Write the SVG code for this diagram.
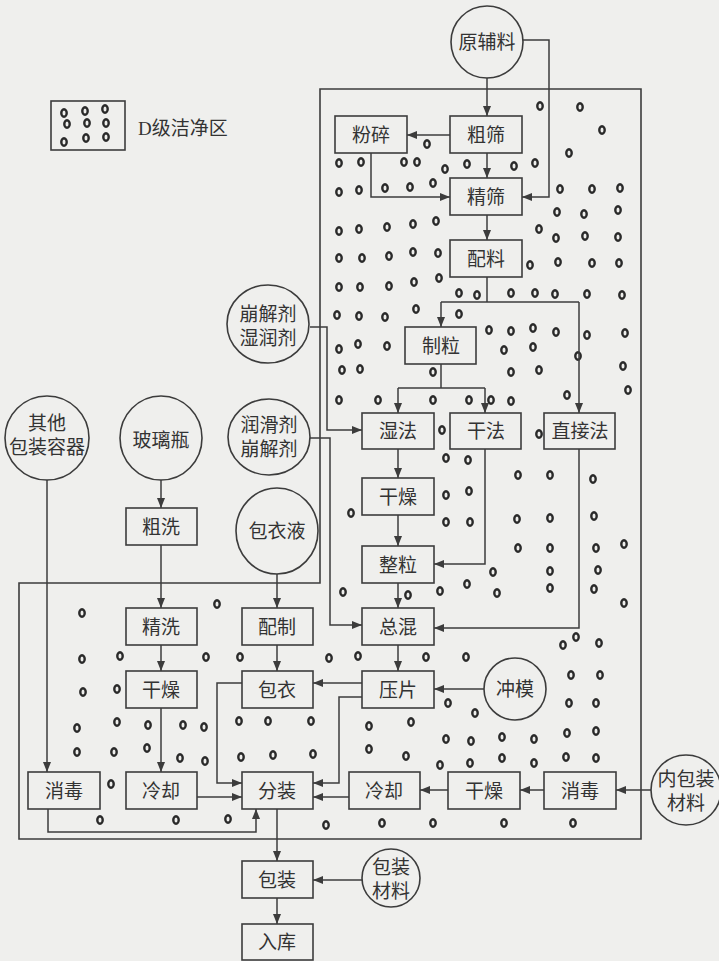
<svg xmlns="http://www.w3.org/2000/svg" xmlns:xlink="http://www.w3.org/1999/xlink" width="719" height="961" viewBox="0 0 719 961">
<style>
.bx{fill:none;stroke:#3c3c3c;stroke-width:1.6}
.cl{fill:none;stroke:#3c3c3c;stroke-width:1.6}
.ln{fill:none;stroke:#3c3c3c;stroke-width:1.5}
.t{font-family:"Liberation Serif","Noto Sans CJK SC",serif;font-size:19px;fill:#333;text-anchor:middle;dominant-baseline:central}
.tl{font-family:"Liberation Serif","Noto Sans CJK SC",serif;font-size:19px;fill:#333;dominant-baseline:central}
.zone{fill:none;stroke:#3c3c3c;stroke-width:1.6}
</style>
<defs>
<marker id="ah" viewBox="0 0 10 8" refX="10" refY="4" markerWidth="10" markerHeight="8" markerUnits="userSpaceOnUse" orient="auto">
<path d="M0,0 L10,4 L0,8 Z" fill="#3c3c3c"/>
</marker>
<ellipse id="dot" cx="0" cy="0" rx="2.7" ry="3.7" fill="none" stroke="#2a2a2a" stroke-width="2.4"/>
</defs>
<rect width="719" height="961" fill="#efefed"/>

<g id="legend">
<rect class="bx" x="51" y="101" width="74" height="49"/>
<use href="#dot" x="64" y="113"/><use href="#dot" x="85" y="111"/><use href="#dot" x="105" y="109"/>
<use href="#dot" x="67" y="124"/><use href="#dot" x="87" y="123"/><use href="#dot" x="106" y="123"/>
<use href="#dot" x="64" y="142"/><use href="#dot" x="86" y="138"/><use href="#dot" x="106" y="137"/>
<text class="tl" x="138" y="128">D级洁净区</text>
</g>

<g id="clean-zone">
<path class="zone" d="M320,89 H641 V839 H19 V583 H320 Z"/>
<g id="dots">
<use href="#dot" x="540" y="106"/><use href="#dot" x="580" y="107"/><use href="#dot" x="602" y="130"/><use href="#dot" x="427" y="144"/><use href="#dot" x="569" y="153"/>
<use href="#dot" x="339" y="163"/><use href="#dot" x="361" y="162"/><use href="#dot" x="404" y="162"/><use href="#dot" x="417" y="162"/><use href="#dot" x="445" y="169"/><use href="#dot" x="467" y="164"/><use href="#dot" x="514" y="166"/><use href="#dot" x="535" y="163"/>
<use href="#dot" x="339" y="192"/><use href="#dot" x="359" y="190"/><use href="#dot" x="385" y="188"/><use href="#dot" x="410" y="187"/><use href="#dot" x="433" y="183"/><use href="#dot" x="560" y="189"/><use href="#dot" x="592" y="189"/><use href="#dot" x="620" y="188"/>
<use href="#dot" x="557" y="212"/><use href="#dot" x="584" y="214"/><use href="#dot" x="618" y="210"/>
<use href="#dot" x="339" y="231"/><use href="#dot" x="359" y="229"/><use href="#dot" x="387" y="227"/><use href="#dot" x="413" y="224"/><use href="#dot" x="436" y="221"/><use href="#dot" x="539" y="229"/><use href="#dot" x="556" y="238"/><use href="#dot" x="585" y="236"/><use href="#dot" x="618" y="237"/>
<use href="#dot" x="339" y="258"/><use href="#dot" x="362" y="258"/><use href="#dot" x="389" y="256"/><use href="#dot" x="413" y="252"/><use href="#dot" x="438" y="253"/><use href="#dot" x="530" y="265"/><use href="#dot" x="558" y="262"/><use href="#dot" x="592" y="263"/><use href="#dot" x="619" y="263"/>
<use href="#dot" x="339" y="287"/><use href="#dot" x="360" y="287"/><use href="#dot" x="389" y="286"/><use href="#dot" x="414" y="282"/><use href="#dot" x="439" y="278"/><use href="#dot" x="459" y="293"/><use href="#dot" x="477" y="295"/><use href="#dot" x="511" y="293"/><use href="#dot" x="535" y="293"/><use href="#dot" x="555" y="294"/><use href="#dot" x="587" y="294"/><use href="#dot" x="622" y="295"/>
<use href="#dot" x="337" y="315"/><use href="#dot" x="359" y="316"/><use href="#dot" x="385" y="317"/><use href="#dot" x="416" y="309"/><use href="#dot" x="459" y="314"/>
<use href="#dot" x="489" y="330"/><use href="#dot" x="511" y="331"/><use href="#dot" x="533" y="328"/><use href="#dot" x="556" y="332"/><use href="#dot" x="587" y="335"/><use href="#dot" x="625" y="333"/>
<use href="#dot" x="339" y="349"/><use href="#dot" x="358" y="344"/><use href="#dot" x="387" y="346"/><use href="#dot" x="504" y="350"/><use href="#dot" x="533" y="347"/><use href="#dot" x="578" y="356"/>
<use href="#dot" x="342" y="370"/><use href="#dot" x="360" y="369"/><use href="#dot" x="433" y="372"/><use href="#dot" x="511" y="372"/><use href="#dot" x="539" y="370"/><use href="#dot" x="623" y="366"/><use href="#dot" x="628" y="390"/>
<use href="#dot" x="339" y="400"/><use href="#dot" x="378" y="400"/><use href="#dot" x="433" y="400"/><use href="#dot" x="469" y="400"/><use href="#dot" x="491" y="400"/><use href="#dot" x="511" y="401"/><use href="#dot" x="567" y="395"/>
<use href="#dot" x="442" y="430"/><use href="#dot" x="539" y="434"/>
<use href="#dot" x="446" y="458"/><use href="#dot" x="468" y="460"/><use href="#dot" x="518" y="475"/><use href="#dot" x="550" y="475"/><use href="#dot" x="593" y="479"/>
<use href="#dot" x="446" y="495"/><use href="#dot" x="469" y="491"/><use href="#dot" x="351" y="513"/><use href="#dot" x="446" y="522"/><use href="#dot" x="470" y="522"/><use href="#dot" x="517" y="519"/><use href="#dot" x="550" y="518"/><use href="#dot" x="594" y="516"/>
<use href="#dot" x="518" y="548"/><use href="#dot" x="550" y="548"/><use href="#dot" x="596" y="548"/><use href="#dot" x="624" y="544"/>
<use href="#dot" x="493" y="572"/><use href="#dot" x="550" y="571"/><use href="#dot" x="598" y="570"/>
<use href="#dot" x="343" y="592"/><use href="#dot" x="408" y="595"/><use href="#dot" x="440" y="591"/><use href="#dot" x="467" y="584"/><use href="#dot" x="497" y="593"/><use href="#dot" x="550" y="588"/><use href="#dot" x="594" y="589"/><use href="#dot" x="624" y="603"/>
<use href="#dot" x="82" y="613"/><use href="#dot" x="217" y="604"/><use href="#dot" x="576" y="637"/>
<use href="#dot" x="563" y="645"/><use href="#dot" x="599" y="643"/>
<use href="#dot" x="82" y="659"/><use href="#dot" x="120" y="656"/><use href="#dot" x="206" y="657"/><use href="#dot" x="240" y="657"/><use href="#dot" x="329" y="658"/><use href="#dot" x="358" y="656"/><use href="#dot" x="426" y="657"/><use href="#dot" x="466" y="657"/>
<use href="#dot" x="571" y="675"/><use href="#dot" x="600" y="675"/><use href="#dot" x="83" y="692"/><use href="#dot" x="117" y="689"/><use href="#dot" x="448" y="703"/><use href="#dot" x="569" y="703"/><use href="#dot" x="596" y="703"/><use href="#dot" x="475" y="713"/>
<use href="#dot" x="77" y="728"/><use href="#dot" x="117" y="722"/><use href="#dot" x="148" y="725"/><use href="#dot" x="183" y="725"/><use href="#dot" x="204" y="727"/><use href="#dot" x="239" y="721"/><use href="#dot" x="268" y="721"/><use href="#dot" x="311" y="721"/><use href="#dot" x="369" y="726"/><use href="#dot" x="411" y="722"/><use href="#dot" x="567" y="733"/><use href="#dot" x="596" y="731"/>
<use href="#dot" x="446" y="739"/><use href="#dot" x="471" y="741"/><use href="#dot" x="502" y="737"/><use href="#dot" x="534" y="739"/>
<use href="#dot" x="77" y="752"/><use href="#dot" x="114" y="752"/><use href="#dot" x="147" y="748"/><use href="#dot" x="180" y="758"/><use href="#dot" x="205" y="761"/><use href="#dot" x="241" y="757"/><use href="#dot" x="273" y="755"/><use href="#dot" x="313" y="754"/><use href="#dot" x="369" y="749"/><use href="#dot" x="406" y="756"/>
<use href="#dot" x="440" y="765"/><use href="#dot" x="470" y="763"/><use href="#dot" x="502" y="758"/><use href="#dot" x="534" y="763"/><use href="#dot" x="566" y="757"/><use href="#dot" x="596" y="758"/>
<use href="#dot" x="111" y="784"/>
<use href="#dot" x="100" y="820"/><use href="#dot" x="176" y="820"/><use href="#dot" x="228" y="819"/><use href="#dot" x="326" y="825"/><use href="#dot" x="382" y="823"/><use href="#dot" x="433" y="823"/><use href="#dot" x="504" y="823"/><use href="#dot" x="573" y="823"/>
</g>
</g>

<g id="connectors">
<path class="ln" d="M487,78 V116" marker-end="url(#ah)"/>
<path class="ln" d="M523,40 H549 V197 H522" marker-end="url(#ah)"/>
<path class="ln" d="M450,135 H407" marker-end="url(#ah)"/>
<path class="ln" d="M487,153 V178" marker-end="url(#ah)"/>
<path class="ln" d="M371,153 V197 H450" marker-end="url(#ah)"/>
<path class="ln" d="M487,215 V240" marker-end="url(#ah)"/>
<path class="ln" d="M487,277 V302"/>
<path class="ln" d="M441,302 H579"/>
<path class="ln" d="M441,302 V327" marker-end="url(#ah)"/>
<path class="ln" d="M579,302 V413" marker-end="url(#ah)"/>
<path class="ln" d="M441,364 V388"/>
<path class="ln" d="M398,388 H485"/>
<path class="ln" d="M398,388 V413" marker-end="url(#ah)"/>
<path class="ln" d="M485,388 V413" marker-end="url(#ah)"/>
<path class="ln" d="M310,327 H327 V430 H362" marker-end="url(#ah)"/>
<path class="ln" d="M398,449 V478" marker-end="url(#ah)"/>
<path class="ln" d="M398,515 V546" marker-end="url(#ah)"/>
<path class="ln" d="M485,449 V564 H434" marker-end="url(#ah)"/>
<path class="ln" d="M398,583 V608" marker-end="url(#ah)"/>
<path class="ln" d="M579,449 V628 H434" marker-end="url(#ah)"/>
<path class="ln" d="M310,438 H330 V625 H362" marker-end="url(#ah)"/>
<path class="ln" d="M398,645 V671" marker-end="url(#ah)"/>
<path class="ln" d="M484,689 H434" marker-end="url(#ah)"/>
<path class="ln" d="M362,683 H313" marker-end="url(#ah)"/>
<path class="ln" d="M242,683 H217 V783 H242" marker-end="url(#ah)"/>
<path class="ln" d="M362,697 H339 V783 H313" marker-end="url(#ah)"/>
<path class="ln" d="M161,480 V508" marker-end="url(#ah)"/>
<path class="ln" d="M161,545 V608" marker-end="url(#ah)"/>
<path class="ln" d="M161,645 V671" marker-end="url(#ah)"/>
<path class="ln" d="M161,708 V772" marker-end="url(#ah)"/>
<path class="ln" d="M277,574 V608" marker-end="url(#ah)"/>
<path class="ln" d="M277,645 V671" marker-end="url(#ah)"/>
<path class="ln" d="M47,480 V772" marker-end="url(#ah)"/>
<path class="ln" d="M48,809 V832 H256 V809" marker-end="url(#ah)"/>
<path class="ln" d="M197,797 H242" marker-end="url(#ah)"/>
<path class="ln" d="M349,797 H313" marker-end="url(#ah)"/>
<path class="ln" d="M448,790 H420" marker-end="url(#ah)"/>
<path class="ln" d="M544,790 H520" marker-end="url(#ah)"/>
<path class="ln" d="M651,790 H616" marker-end="url(#ah)"/>
<path class="ln" d="M277,809 V861" marker-end="url(#ah)"/>
<path class="ln" d="M362,880 H313" marker-end="url(#ah)"/>
<path class="ln" d="M277,898 V924" marker-end="url(#ah)"/>
</g>

<g id="n-yuanfuliao"><ellipse class="cl" cx="487" cy="42" rx="36" ry="36"/><text class="t" x="487" y="42">原辅料</text></g>
<g id="n-fensui"><rect class="bx" x="335" y="116" width="72" height="37"/><text class="t" x="371" y="135">粉碎</text></g>
<g id="n-cushai"><rect class="bx" x="450" y="116" width="72" height="37"/><text class="t" x="486" y="135">粗筛</text></g>
<g id="n-jingshai"><rect class="bx" x="450" y="178" width="72" height="37"/><text class="t" x="486" y="197">精筛</text></g>
<g id="n-peiliao"><rect class="bx" x="450" y="240" width="72" height="37"/><text class="t" x="486" y="259">配料</text></g>
<g id="n-zhili"><rect class="bx" x="405" y="327" width="71" height="37"/><text class="t" x="441" y="346">制粒</text></g>
<g id="n-bengjie-shirun"><ellipse class="cl" cx="268" cy="324" rx="41" ry="39"/><text class="t" x="268" y="314">崩解剂</text><text class="t" x="268" y="338">湿润剂</text></g>
<g id="n-shifa"><rect class="bx" x="362" y="413" width="72" height="36"/><text class="t" x="398" y="431">湿法</text></g>
<g id="n-ganfa"><rect class="bx" x="450" y="413" width="71" height="36"/><text class="t" x="486" y="431">干法</text></g>
<g id="n-zhijiefa"><rect class="bx" x="544" y="413" width="71" height="36"/><text class="t" x="580" y="431">直接法</text></g>
<g id="n-runhua-bengjie"><ellipse class="cl" cx="269" cy="437" rx="41" ry="38"/><text class="t" x="269" y="425">润滑剂</text><text class="t" x="269" y="449">崩解剂</text></g>
<g id="n-qita"><ellipse class="cl" cx="47" cy="438" rx="42" ry="42"/><text class="t" x="47" y="423">其他</text><text class="t" x="47" y="447">包装容器</text></g>
<g id="n-boliping"><ellipse class="cl" cx="161" cy="438" rx="41" ry="42"/><text class="t" x="161" y="440">玻璃瓶</text></g>
<g id="n-ganzao1"><rect class="bx" x="362" y="478" width="72" height="37"/><text class="t" x="398" y="497">干燥</text></g>
<g id="n-cuxi"><rect class="bx" x="126" y="508" width="71" height="37"/><text class="t" x="161" y="527">粗洗</text></g>
<g id="n-baoyiye"><ellipse class="cl" cx="277" cy="531" rx="41" ry="43"/><text class="t" x="277" y="531">包衣液</text></g>
<g id="n-zhengli"><rect class="bx" x="362" y="546" width="72" height="37"/><text class="t" x="398" y="565">整粒</text></g>
<g id="n-jingxi"><rect class="bx" x="126" y="608" width="71" height="37"/><text class="t" x="161" y="627">精洗</text></g>
<g id="n-peizhi"><rect class="bx" x="242" y="608" width="71" height="37"/><text class="t" x="277" y="627">配制</text></g>
<g id="n-zonghun"><rect class="bx" x="362" y="608" width="72" height="37"/><text class="t" x="398" y="627">总混</text></g>
<g id="n-ganzao2"><rect class="bx" x="126" y="671" width="71" height="37"/><text class="t" x="161" y="690">干燥</text></g>
<g id="n-baoyi"><rect class="bx" x="242" y="671" width="71" height="37"/><text class="t" x="277" y="690">包衣</text></g>
<g id="n-yapian"><rect class="bx" x="362" y="671" width="72" height="37"/><text class="t" x="398" y="690">压片</text></g>
<g id="n-chongmo"><ellipse class="cl" cx="515" cy="689" rx="31" ry="31"/><text class="t" x="515" y="689">冲模</text></g>
<g id="n-xiaodu1"><rect class="bx" x="28" y="772" width="72" height="37"/><text class="t" x="64" y="791">消毒</text></g>
<g id="n-lengque1"><rect class="bx" x="126" y="772" width="71" height="37"/><text class="t" x="161" y="791">冷却</text></g>
<g id="n-fenzhuang"><rect class="bx" x="242" y="772" width="71" height="37"/><text class="t" x="277" y="791">分装</text></g>
<g id="n-lengque2"><rect class="bx" x="349" y="772" width="71" height="37"/><text class="t" x="384" y="791">冷却</text></g>
<g id="n-ganzao3"><rect class="bx" x="448" y="772" width="72" height="37"/><text class="t" x="484" y="791">干燥</text></g>
<g id="n-xiaodu2"><rect class="bx" x="544" y="772" width="72" height="37"/><text class="t" x="580" y="791">消毒</text></g>
<g id="n-neibaozhuang"><ellipse class="cl" cx="686" cy="790" rx="35" ry="35"/><text class="t" x="686" y="779">内包装</text><text class="t" x="686" y="803">材料</text></g>
<g id="n-baozhuang"><rect class="bx" x="242" y="861" width="71" height="37"/><text class="t" x="277" y="880">包装</text></g>
<g id="n-baozhuangcailiao"><ellipse class="cl" cx="391" cy="878" rx="29" ry="29"/><text class="t" x="391" y="867">包装</text><text class="t" x="391" y="891">材料</text></g>
<g id="n-ruku"><rect class="bx" x="242" y="924" width="71" height="36"/><text class="t" x="277" y="942">入库</text></g>
</svg>
